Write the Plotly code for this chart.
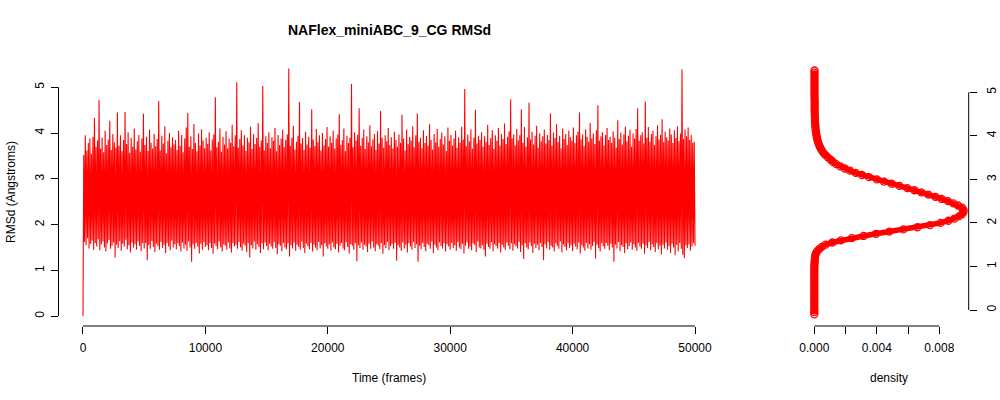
import numpy as np
import plotly.graph_objects as go

# ---------------- data ----------------
title_text = "NAFlex_miniABC_9_CG RMSd"
x_ticks_left = [0, 10000, 20000, 30000, 40000, 50000]
y_ticks = [0, 1, 2, 3, 4, 5]
x_ticks_right = [0.000, 0.002, 0.004, 0.006, 0.008]
x_ticklabels_right = ["0.000", "", "0.004", "", "0.008"]
n_frames = 50000

rmsd_start = [0.0]
# local maxima of the trace, left to right
rmsd_highs = [
    3.52, 3.95, 3.62, 3.78, 3.88, 3.55, 3.92, 4.33, 3.70, 3.84, 4.72, 3.66, 3.90, 3.58, 4.05, 3.74, 3.86, 4.27, 3.63, 3.98,
    3.80, 3.68, 4.45, 3.72, 3.95, 3.60, 3.85, 4.46, 3.76, 4.02, 3.57, 3.90, 3.70, 4.10, 3.64, 3.82, 3.96, 3.59, 3.88, 4.42,
    3.74, 3.92, 3.61, 4.08, 3.79, 3.66, 3.98, 3.71, 3.87, 4.70, 3.62, 3.94, 3.77, 4.15, 3.56, 3.83, 4.00, 3.69, 3.91, 3.75,
    3.85, 3.63, 4.05, 3.72, 3.96, 3.58, 3.88, 4.12, 4.44, 3.70, 3.93, 3.65, 4.20, 3.78, 3.60, 3.99, 3.73, 4.08, 3.84, 3.67,
    3.90, 3.76, 4.02, 3.62, 3.86, 3.97, 4.78, 3.69, 3.81, 4.10, 3.59, 3.92, 3.75, 4.04, 3.66, 3.88, 3.79, 4.18, 3.71, 3.95,
    5.11, 3.68, 3.87, 4.06, 3.73, 3.95, 3.61, 3.90, 3.80, 4.14, 3.65, 3.98, 3.76, 3.89, 4.22, 3.70, 3.84, 5.03, 3.62, 3.93,
    3.78, 4.02, 3.67, 3.91, 3.83, 4.11, 3.60, 3.96, 3.74, 3.88, 4.07, 3.69, 3.85, 3.97, 5.41, 3.72, 3.90, 4.16, 3.64, 3.81,
    3.94, 4.68, 3.77, 3.89, 3.63, 4.03, 3.75, 3.92, 3.68, 4.52, 3.86, 3.71, 4.09, 3.80, 3.95, 3.62, 4.00, 3.73, 3.87, 4.13,
    3.70, 3.93, 3.79, 4.05, 3.66, 3.88, 3.97, 4.41, 3.74, 3.85, 4.10, 3.61, 3.94, 3.78, 3.90, 5.07, 3.69, 4.02, 3.83, 3.96,
    4.54, 3.72, 3.89, 4.08, 3.65, 3.93, 3.80, 4.17, 3.71, 3.86, 3.98, 3.63, 4.04, 3.77, 4.48, 3.90, 3.68, 3.95, 3.82, 4.11,
    3.74, 3.91, 3.66, 4.03, 3.85, 3.70, 3.97, 3.79, 4.40, 3.88, 3.62, 4.07, 3.76, 3.92, 3.84, 4.15, 3.69, 3.95, 4.43, 3.81,
    3.90, 3.67, 4.06, 3.78, 3.94, 3.72, 4.19, 3.85, 3.64, 3.98, 3.80, 4.09, 3.70, 3.87, 4.01, 3.75, 3.93, 3.61, 4.12, 3.83,
    3.96, 3.73, 3.88, 4.05, 3.68, 3.91, 3.79, 4.14, 3.86, 4.96, 3.71, 3.97, 3.82, 4.08, 3.66, 3.90, 4.51, 3.77, 3.94, 3.85,
    4.02, 3.70, 3.93, 3.80, 4.18, 3.74, 3.89, 4.06, 3.65, 3.95, 3.83, 4.11, 3.72, 3.98, 3.87, 4.21, 3.76, 3.92, 4.04, 4.74,
    3.88, 3.97, 3.73, 4.09, 3.84, 3.95, 4.52, 3.79, 4.13, 3.70, 3.91, 4.66, 3.86, 4.03, 3.75, 3.94, 4.16, 3.68, 3.99, 3.82,
    3.93, 4.07, 3.77, 3.96, 3.85, 4.43, 3.72, 4.01, 3.89, 4.19, 3.80, 3.94, 3.67, 4.10, 3.87, 3.98, 3.74, 4.05, 3.91, 3.83,
    4.12, 3.78, 3.95, 4.03, 4.45, 3.86, 3.97, 3.71, 4.08, 3.92, 3.81, 4.22, 3.88, 3.99, 3.76, 4.06, 4.61, 3.84, 3.93, 4.02,
    3.73, 3.96, 4.11, 3.85, 3.92, 3.79, 4.04, 3.90, 3.68, 4.28, 3.87, 4.01, 3.75, 3.97, 4.14, 3.82, 3.94, 4.07, 3.70, 3.99,
    3.88, 4.09, 4.54, 3.83, 3.95, 4.02, 3.77, 4.69, 3.90, 4.13, 3.81, 3.98, 4.05, 3.74, 3.93, 4.17, 3.86, 3.96, 4.30, 3.80,
    4.03, 3.91, 3.84, 4.10, 3.97, 3.78, 4.06, 3.89, 4.15, 3.82, 3.99, 5.39, 3.87, 4.08, 3.93, 4.12, 3.85, 3.96, 3.79, 3.81,
]
# local minima of the trace, left to right
rmsd_lows = [
    1.62, 1.55, 1.70, 1.48, 1.58, 1.65, 1.45, 1.60, 1.52, 1.68, 1.44, 1.57, 1.63, 1.50, 1.41, 1.59, 1.66, 1.47, 1.54, 1.61,
    1.28, 1.56, 1.49, 1.64, 1.43, 1.58, 1.52, 1.67, 1.46, 1.55, 1.39, 1.61, 1.50, 1.57, 1.45, 1.63, 1.53, 1.42, 1.59, 1.48,
    1.60, 1.22, 1.55, 1.47, 1.64, 1.51, 1.40, 1.58, 1.53, 1.45, 1.62, 1.49, 1.56, 1.38, 1.60, 1.52, 1.44, 1.65, 1.50, 1.57,
    1.46, 1.59, 1.53, 1.41, 1.61, 1.48, 1.56, 1.43, 1.63, 1.50, 1.19, 1.57, 1.47, 1.60, 1.52, 1.37, 1.58, 1.45, 1.62, 1.51,
    1.55, 1.44, 1.60, 1.49, 1.36, 1.58, 1.53, 1.46, 1.63, 1.50, 1.41, 1.57, 1.54, 1.45, 1.61, 1.48, 1.39, 1.59, 1.52, 1.56,
    1.47, 1.62, 1.50, 1.43, 1.58, 1.54, 1.40, 1.60, 1.28, 1.55, 1.48, 1.63, 1.45, 1.57, 1.51, 1.38, 1.59, 1.46, 1.61, 1.53,
    1.44, 1.58, 1.52, 1.47, 1.62, 1.49, 1.35, 1.57, 1.54, 1.42, 1.60, 1.50, 1.46, 1.59, 1.30, 1.55, 1.48, 1.61, 1.43, 1.56,
    1.51, 1.45, 1.63, 1.49, 1.38, 1.58, 1.53, 1.46, 1.60, 1.41, 1.56, 1.50, 1.44, 1.62, 1.48, 1.55, 1.30, 1.59, 1.52, 1.47,
    1.57, 1.43, 1.61, 1.50, 1.46, 1.58, 1.39, 1.54, 1.60, 1.48, 1.44, 1.62, 1.51, 1.37, 1.57, 1.53, 1.45, 1.59, 1.20, 1.55,
    1.49, 1.61, 1.45, 1.56, 1.52, 1.40, 1.58, 1.47, 1.63, 1.50, 1.42, 1.57, 1.54, 1.46, 1.60, 1.36, 1.55, 1.49, 1.62, 1.44,
    1.53, 1.58, 1.47, 1.60, 1.21, 1.55, 1.50, 1.43, 1.61, 1.48, 1.56, 1.39, 1.59, 1.52, 1.45, 1.62, 1.49, 1.57, 1.19, 1.54,
    1.46, 1.60, 1.51, 1.42, 1.58, 1.55, 1.47, 1.63, 1.38, 1.56, 1.50, 1.44, 1.61, 1.53, 1.48, 1.59, 1.41, 1.57, 1.52, 1.45,
    1.60, 1.49, 1.55, 1.43, 1.62, 1.50, 1.46, 1.58, 1.37, 1.54, 1.61, 1.47, 1.52, 1.44, 1.59, 1.56, 1.40, 1.63, 1.50, 1.48,
    1.55, 1.45, 1.30, 1.58, 1.51, 1.47, 1.62, 1.42, 1.57, 1.53, 1.48, 1.60, 1.39, 1.56, 1.50, 1.45, 1.61, 1.54, 1.46, 1.59,
    1.43, 1.57, 1.52, 1.48, 1.62, 1.40, 1.55, 1.25, 1.59, 1.50, 1.46, 1.61, 1.53, 1.38, 1.58, 1.49, 1.56, 1.44, 1.60, 1.51,
    1.22, 1.57, 1.48, 1.62, 1.45, 1.54, 1.50, 1.41, 1.59, 1.53, 1.47, 1.63, 1.39, 1.56, 1.51, 1.44, 1.60, 1.49, 1.55, 1.42,
    1.58, 1.52, 1.46, 1.61, 1.37, 1.55, 1.50, 1.43, 1.60, 1.48, 1.57, 1.45, 1.53, 1.62, 1.26, 1.56, 1.49, 1.41, 1.59, 1.52,
    1.47, 1.60, 1.54, 1.44, 1.58, 1.50, 1.19, 1.56, 1.48, 1.62, 1.42, 1.55, 1.51, 1.38, 1.59, 1.46, 1.53, 1.61, 1.45, 1.57,
    1.50, 1.43, 1.60, 1.52, 1.47, 1.58, 1.36, 1.55, 1.49, 1.62, 1.44, 1.57, 1.51, 1.40, 1.59, 1.46, 1.54, 1.35, 1.56, 1.48,
    1.61, 1.45, 1.53, 1.38, 1.58, 1.50, 1.33, 1.56, 1.42, 1.60, 1.47, 1.34, 1.27, 1.55, 1.49, 1.57, 1.43, 1.52, 1.59, 1.54,
]

# kernel density of RMSd
density_grid = [round(-0.10 + 0.05 * i, 2) for i in range(113)]  # RMSd -0.10 .. 5.50
density_values = [
    0.0, 0.0, 0.0, 0.0, 0.0, 0.0, 0.0, 0.0, 0.0, 0.0,
    0.0, 0.0, 0.0, 0.0, 0.0, 0.0, 0.0, 0.0, 0.0, 0.0,
    0.0, 0.0, 0.0,                                   # -0.10 .. 1.00
    0.00001, 0.00002, 0.00003, 0.00004, 0.00006,     # 1.05 .. 1.25
    0.00010, 0.00018, 0.00032, 0.00048, 0.00072,     # 1.30 .. 1.50
    0.00115, 0.00170, 0.00240, 0.00315, 0.00395,     # 1.55 .. 1.75
    0.00480, 0.00570, 0.00660, 0.00740, 0.00808,     # 1.80 .. 2.00
    0.00858, 0.00897, 0.00926, 0.00945, 0.00955,     # 2.05 .. 2.25
    0.00955, 0.00945, 0.00920, 0.00890, 0.00855,     # 2.30 .. 2.50
    0.00815, 0.00775, 0.00730, 0.00685, 0.00640,     # 2.55 .. 2.75
    0.00595, 0.00545, 0.00495, 0.00445, 0.00400,     # 2.80 .. 3.00
    0.00350, 0.00305, 0.00265, 0.00228, 0.00195,     # 3.05 .. 3.25
    0.00165, 0.00140, 0.00120, 0.00105, 0.00088,     # 3.30 .. 3.50
    0.00073, 0.00060, 0.00050, 0.00042, 0.00035,     # 3.55 .. 3.75
    0.00029, 0.00024, 0.00020, 0.00017, 0.00014,     # 3.80 .. 4.00
    0.00012, 0.00010, 0.00008, 0.00007, 0.00006,     # 4.05 .. 4.25
    0.00005, 0.00004, 0.00004, 0.00003, 0.00003,     # 4.30 .. 4.50
    0.00002, 0.00002, 0.00002, 0.00002, 0.00002,     # 4.55 .. 4.75
    0.00002, 0.00002, 0.00001, 0.00001, 0.00001,     # 4.80 .. 5.00
    0.00001, 0.00001, 0.00001, 0.00001, 0.00001,     # 5.05 .. 5.25
    0.00001, 0.00001, 0.00001, 0.00001, 0.00001,     # 5.30 .. 5.50
]

# ---------------- build series ----------------
rmsd = list(rmsd_start)
for h, l in zip(rmsd_highs, rmsd_lows):
    rmsd.append(h)
    rmsd.append(l)
frames = np.linspace(0, n_frames, len(rmsd))

W, H = 1000, 400
FONT = "Liberation Sans, Arial, Helvetica, sans-serif"
RED = "#FF0000"

# pixel geometry (R base-graphics layout)
left_dom = [58.5 / W, 719.5 / W]
right_dom = [808.4 / W, 968.7 / W]
y_dom = [1 - 326 / H, 1 - 59.1 / H]

fig = go.Figure()
fig.add_trace(go.Scatter(
    x=frames, y=rmsd, mode="lines",
    line=dict(color=RED, width=1.1),
    xaxis="x", yaxis="y", hoverinfo="skip", showlegend=False,
))
fig.add_trace(go.Scatter(
    x=density_values, y=density_grid, mode="lines+markers",
    line=dict(color=RED, width=5.5),
    marker=dict(symbol="circle-open", size=7, color=RED, line=dict(width=1.3, color=RED)),
    xaxis="x2", yaxis="y2", hoverinfo="skip", showlegend=False,
))

axis_common = dict(
    showgrid=False, zeroline=False, showline=False, automargin=False,
    ticks="outside", ticklen=7, tickwidth=1, tickcolor="black",
    tickfont=dict(family=FONT, size=12, color="black"),
)

fig.update_layout(
    width=W, height=H, autosize=False,
    margin=dict(l=0, r=0, t=0, b=0, pad=0, autoexpand=False),
    paper_bgcolor="white", plot_bgcolor="white",
    font=dict(family=FONT, color="black"),
    xaxis=dict(domain=left_dom, range=[-2000, 52000], anchor="y",
               tickvals=x_ticks_left, ticktext=[str(v) for v in x_ticks_left],
               ticklabelstandoff=4, **axis_common),
    yaxis=dict(domain=y_dom, range=[-0.216, 5.616], anchor="x",
               tickvals=y_ticks, tickangle=-90, ticklabelstandoff=2, **axis_common),
    xaxis2=dict(domain=right_dom, range=[-0.00038, 0.00988], anchor="y2",
                tickvals=x_ticks_right, ticktext=x_ticklabels_right,
                ticklabelstandoff=4, **axis_common),
    yaxis2=dict(domain=y_dom, range=[-0.3675, 5.762], anchor="x2", side="right",
                tickvals=y_ticks, tickangle=-90, ticklabelstandoff=5, **axis_common),
)

# R-style axis lines spanning only the tick range
line_style = dict(color="black", width=1)
fig.add_shape(type="line", xref="x", yref="paper", x0=x_ticks_left[0], x1=x_ticks_left[-1],
              y0=y_dom[0], y1=y_dom[0], line=line_style)
fig.add_shape(type="line", xref="paper", yref="y", x0=left_dom[0], x1=left_dom[0],
              y0=y_ticks[0], y1=y_ticks[-1], line=line_style)
fig.add_shape(type="line", xref="x2", yref="paper", x0=x_ticks_right[0], x1=x_ticks_right[-1],
              y0=y_dom[0], y1=y_dom[0], line=line_style)
fig.add_shape(type="line", xref="paper", yref="y2", x0=right_dom[1], x1=right_dom[1],
              y0=y_ticks[0], y1=y_ticks[-1], line=line_style)

# titles
fig.add_annotation(text="<b>" + title_text + "</b>", x=389 / W, y=1 - 30 / H, xref="paper", yref="paper",
                   showarrow=False, xanchor="center", yanchor="middle",
                   font=dict(family=FONT, size=14, color="black"))
fig.add_annotation(text="Time (frames)", x=389 / W, y=1 - 378 / H, xref="paper", yref="paper",
                   showarrow=False, xanchor="center", yanchor="middle",
                   font=dict(family=FONT, size=12, color="black"))
fig.add_annotation(text="density", x=888.5 / W, y=1 - 378 / H, xref="paper", yref="paper",
                   showarrow=False, xanchor="center", yanchor="middle",
                   font=dict(family=FONT, size=12, color="black"))
fig.add_annotation(text="RMSd (Angstroms)", x=11 / W, y=1 - 192 / H, xref="paper", yref="paper",
                   showarrow=False, xanchor="center", yanchor="middle", textangle=-90,
                   font=dict(family=FONT, size=12, color="black"))

fig.write_html(
    "out.html",
    config={"displayModeBar": False, "responsive": False},
    post_script="document.body.style.margin='0';document.body.style.overflow='hidden';",
)
